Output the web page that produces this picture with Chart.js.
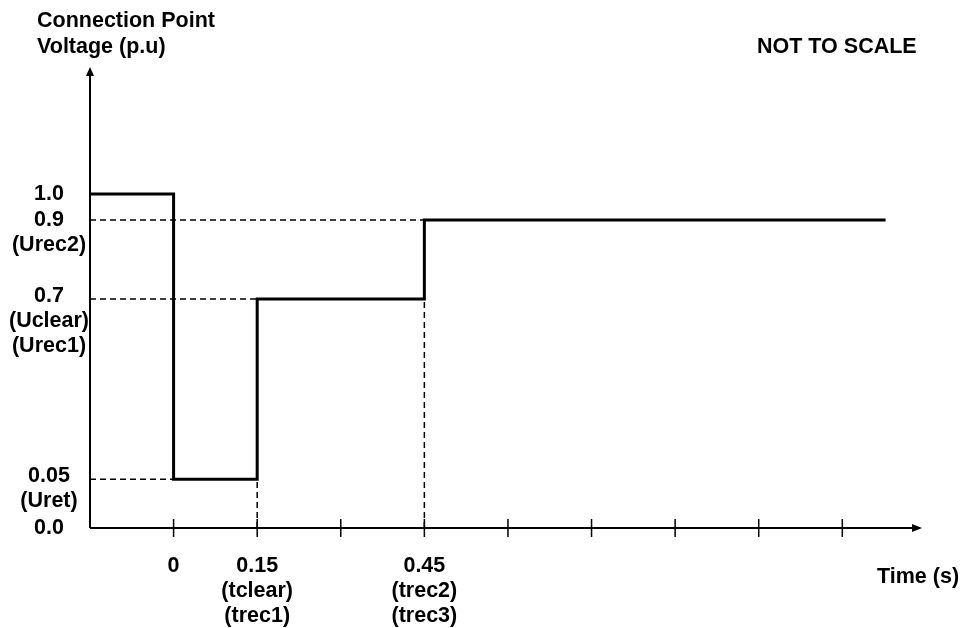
<!DOCTYPE html>
<html>
<head>
<meta charset="utf-8">
<script src="https://cdn.jsdelivr.net/npm/chart.js@4/dist/chart.umd.min.js"></script>
<style>
  html, body { margin: 0; padding: 0; background: #fff; }
</style>
</head>
<body>
<canvas id="chart" width="961" height="628"></canvas>
<script>
// voltage step profile (s, p.u.)
const stepTimes = [-0.15, 0, 0.15, 0.45, 1.275];
const stepVolts = [1.0, 0.05, 0.7, 0.9, 0.9];

// dashed guides: horizontal from the y axis, vertical down to the x axis
const guideVolts = [0.9, 0.7, 0.05];
const guideEnds = [0.45, 0.15, 0];
const dropTimes = [0.15, 0.45];
const dropVolts = [0.05, 0.7];

const timeMarks = [0, 0.15, 0.3, 0.45, 0.6, 0.75, 0.9, 1.05, 1.2];
const timeTicks = [0, 0.15, 0.45];
const timeLabels = [['0'], ['0.15', '(tclear)', '(trec1)'], ['0.45', '(trec2)', '(trec3)']];
const voltTicks = [1.0, 0.9, 0.7, 0.05, 0.0];
const voltLabels = [['1.0'], ['0.9', '(Urec2)'], ['0.7', '(Uclear)', '(Urec1)'], ['0.05', '(Uret)'], ['0.0']];

const FONT = 'bold 21.5px "Liberation Sans", Arial, sans-serif';

// y axis is "not to scale": piecewise mapping between break values
class NotToScale extends Chart.LinearScale {
    _decimal(v) {
        const br = this.options.breaks;
        if (v <= br[0][0]) return br[0][1];
        for (let i = 1; i < br.length; i++) {
            if (v <= br[i][0]) {
                const [v0, f0] = br[i - 1];
                const [v1, f1] = br[i];
                return f0 + (v - v0) / (v1 - v0) * (f1 - f0);
            }
        }
        return br[br.length - 1][1];
    }
    getPixelForValue(value) {
        if (value === null || value === undefined) return NaN;
        return this.getPixelForDecimal(this._decimal(value));
    }
    getValueForPixel(pixel) {
        const d = this.getDecimalForPixel(pixel);
        const br = this.options.breaks;
        for (let i = 1; i < br.length; i++) {
            if (d <= br[i][1]) {
                const [v0, f0] = br[i - 1];
                const [v1, f1] = br[i];
                return v0 + (d - f0) / (f1 - f0) * (v1 - v0);
            }
        }
        return br[br.length - 1][0];
    }
}
NotToScale.id = 'nottoscale';
NotToScale.defaults = Chart.LinearScale.defaults;
Chart.register(NotToScale);

const guidePoints = [];
guideVolts.forEach((v, i) => {
    guidePoints.push({ x: stepTimes[0], y: v }, { x: guideEnds[i], y: v }, { x: guideEnds[i], y: null });
});
dropTimes.forEach((t, i) => {
    guidePoints.push({ x: t, y: 0 }, { x: t, y: dropVolts[i] }, { x: t, y: null });
});

const axesPlugin = {
    id: 'sketchAxes',
    afterDraw(chart) {
        const { ctx, chartArea } = chart;
        const xs = chart.scales.x;
        const ys = chart.scales.y;
        const x0 = xs.getPixelForValue(stepTimes[0]);
        const y0 = ys.getPixelForValue(0);
        ctx.save();
        ctx.strokeStyle = '#000';
        ctx.fillStyle = '#000';
        ctx.lineWidth = 2;

        // y axis with arrow
        ctx.beginPath();
        ctx.moveTo(x0, y0);
        ctx.lineTo(x0, chartArea.top + 6);
        ctx.stroke();
        ctx.beginPath();
        ctx.moveTo(x0, chartArea.top);
        ctx.lineTo(x0 - 4, chartArea.top + 9);
        ctx.lineTo(x0 + 4, chartArea.top + 9);
        ctx.closePath();
        ctx.fill();

        // x axis with arrow
        ctx.beginPath();
        ctx.moveTo(x0, y0);
        ctx.lineTo(chartArea.right - 6, y0);
        ctx.stroke();
        ctx.beginPath();
        ctx.moveTo(chartArea.right, y0);
        ctx.lineTo(chartArea.right - 10, y0 - 4);
        ctx.lineTo(chartArea.right - 10, y0 + 4);
        ctx.closePath();
        ctx.fill();

        // tick marks crossing the x axis
        ctx.lineWidth = 1.5;
        timeMarks.forEach(t => {
            const px = xs.getPixelForValue(t);
            ctx.beginPath();
            ctx.moveTo(px, y0 - 9);
            ctx.lineTo(px, y0 + 9);
            ctx.stroke();
        });

        ctx.font = FONT;
        ctx.textBaseline = 'middle';
        ctx.textAlign = 'center';
        timeTicks.forEach((t, i) => {
            const px = xs.getPixelForValue(t);
            timeLabels[i].forEach((line, j) => ctx.fillText(line, px, y0 + 38 + j * 25));
        });
        voltTicks.forEach((v, i) => {
            const py = ys.getPixelForValue(v);
            const shift = (i === 2 || i === 3) ? -3 : 0;
            voltLabels[i].forEach((line, j) => ctx.fillText(line, 49, py + shift + j * 25));
        });

        ctx.textAlign = 'left';
        ctx.fillText('Connection Point', 37, 21);
        ctx.fillText('Voltage (p.u)', 37, 47);
        ctx.fillText('NOT TO SCALE', 757, 47);
        ctx.fillText('Time (s)', 877, 577);
        ctx.restore();
    }
};

new Chart(document.getElementById('chart'), {
    type: 'line',
    data: {
        datasets: [
            {
                data: stepTimes.map((t, i) => ({ x: t, y: stepVolts[i] })),
                stepped: 'before',
                borderColor: '#000',
                borderWidth: 3,
                pointRadius: 0,
                borderCapStyle: 'square',
            },
            {
                data: guidePoints,
                borderColor: '#000',
                borderWidth: 1.5,
                borderDash: [6, 4],
                pointRadius: 0,
                spanGaps: false,
            },
        ],
    },
    options: {
        responsive: false,
        animation: false,
        layout: { padding: { left: 90, right: 39, top: 67, bottom: 100 } },
        plugins: { legend: { display: false }, tooltip: { enabled: false } },
        scales: {
            x: { type: 'linear', min: -0.15, max: 1.343, display: false },
            y: {
                type: 'nottoscale',
                min: 0,
                max: 1.5,
                display: false,
                breaks: [[0, 0], [0.05, 0.106], [0.7, 0.497], [0.9, 0.668], [1.0, 0.7245], [1.5, 1]],
            },
        },
    },
    plugins: [axesPlugin],
});
</script>
</body>
</html>
